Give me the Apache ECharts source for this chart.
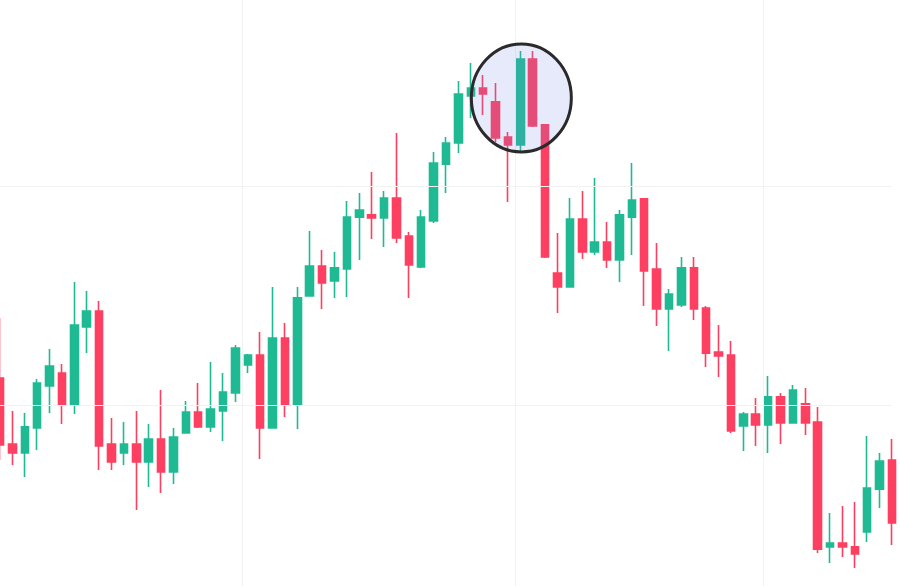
<!DOCTYPE html>
<html>
<head>
<meta charset="utf-8">
<style>
html,body{margin:0;padding:0;background:#ffffff;}
#chart{width:900px;height:586px;}
</style>
<script src="https://cdn.jsdelivr.net/npm/echarts@6/dist/echarts.min.js"></script>
</head>
<body>
<div id="chart"></div>
<script>
// Candle values: [open, close, low, high]
const opens  = [111.23,108.22,107.81,108.95,110.87,111.46,110.00,113.56,114.29,108.22,107.81,108.22,107.40,108.45,106.94,108.72,109.68,109.00,109.73,110.55,111.83,112.28,108.95,113.06,110.00,114.98,116.35,115.66,116.21,118.58,118.68,118.54,119.45,117.72,116.30,118.40,121.00,121.96,124.11,124.47,123.84,122.24,121.87,125.80,122.79,116.03,115.39,118.49,116.99,117.44,116.62,118.58,119.41,116.21,114.38,114.57,116.26,114.43,112.42,112.28,109.04,109.59,109.09,110.37,109.18,110.05,109.22,103.52,103.70,103.52,104.20,106.16,107.49];
const closes = [108.17,107.81,109.00,111.00,111.78,110.00,113.65,114.29,108.13,107.40,108.22,107.40,108.45,106.94,108.54,109.68,109.00,109.82,110.59,112.60,112.28,108.95,113.06,110.00,114.89,116.35,115.57,116.26,118.58,118.90,118.54,119.45,117.63,116.39,118.58,121.05,121.96,124.20,124.47,124.20,122.19,121.87,125.80,122.74,116.76,115.39,118.49,116.99,117.44,116.62,118.68,119.36,116.12,114.38,115.07,116.26,114.38,112.37,112.24,108.81,109.59,109.09,110.37,109.18,110.68,109.18,103.42,103.70,103.52,103.20,106.21,107.44,104.61];
const lows   = [107.49,107.26,106.71,107.95,109.63,109.13,109.59,112.37,107.03,107.03,107.26,105.21,106.26,105.98,106.39,108.72,108.95,108.77,108.36,110.14,111.46,107.53,108.95,109.45,108.90,114.98,114.38,114.89,114.93,116.62,117.58,117.21,117.40,114.89,116.26,118.31,119.68,121.51,123.10,123.24,122.01,119.27,121.51,122.69,116.71,114.20,115.39,116.67,116.85,116.26,115.62,116.85,114.52,113.61,112.47,114.47,113.88,111.74,111.28,108.72,107.90,108.13,107.81,108.22,109.18,108.63,103.24,102.79,103.06,102.56,103.74,105.30,103.61];
const highs  = [113.97,109.73,109.63,111.19,112.56,111.87,115.62,115.21,114.75,109.41,109.22,109.73,109.13,110.68,108.95,110.18,111.00,111.96,111.46,112.74,112.33,113.33,115.39,113.74,115.39,117.95,117.08,116.99,119.32,119.68,120.64,119.77,122.42,117.90,118.90,121.55,122.24,124.79,125.62,125.07,124.70,122.47,126.16,126.16,122.83,117.85,119.45,119.77,120.37,118.36,118.90,121.05,119.41,117.40,115.30,116.76,116.76,114.52,113.65,112.92,109.68,110.32,111.32,110.55,110.91,110.78,109.91,105.07,105.39,105.57,108.58,107.81,108.45];
const categories = opens.map((_, i) => String(i));
// Visible price range and faint guide lines
const priceMin = 101.735;
const priceMax = 128.493;
const horizontalGuides = [110, 120];
const verticalGuides = [19.53, 41.57, 61.58];   // in candle-index units
// Highlighted candle (circle annotation)
const highlightIndex = 42;
const highlightPrice = 124.02;

const UP = '#1fba93';
const DOWN = '#fd4061';
const GUIDE = '#f2f2f2';

const chart = echarts.init(document.getElementById('chart'), null, {renderer: 'canvas'});
const candleData = opens.map((o, i) => [o, closes[i], lows[i], highs[i]]);

chart.setOption({
  animation: false,
  backgroundColor: '#ffffff',
  grid: {left: 0, right: 8, top: 0, bottom: 0, containLabel: false},
  xAxis: [
    {type: 'category', data: categories, boundaryGap: false,
     axisLine: {show: false}, axisTick: {show: false}, axisLabel: {show: false}, splitLine: {show: false}},
    {type: 'value', min: 0, max: opens.length - 1, show: false}
  ],
  yAxis: {type: 'value', min: priceMin, max: priceMax, scale: true,
    axisLine: {show: false}, axisTick: {show: false}, axisLabel: {show: false},
    splitLine: {show: false}},
  series: [
    {type: 'line', xAxisIndex: 1, data: [], silent: true,
     markLine: {silent: true, symbol: 'none', label: {show: false},
       lineStyle: {color: GUIDE, width: 1, type: 'solid'},
       data: verticalGuides.map(v => ({xAxis: v})).concat(horizontalGuides.map(v => ({yAxis: v})))}},
    {type: 'candlestick', data: candleData, barWidth: 8,
     itemStyle: {color: UP, color0: DOWN, borderColor: UP, borderColor0: DOWN, borderWidth: 1.6}}
  ]
});

const c = chart.convertToPixel({xAxisIndex: 0, yAxisIndex: 0}, [highlightIndex, highlightPrice]);
chart.setOption({
  graphic: [{type: 'ellipse', z: 100,
    shape: {cx: c[0] + 1, cy: c[1], rx: 50, ry: 54},
    style: {fill: 'rgba(120,141,228,0.18)', stroke: '#2a2a2a', lineWidth: 3}}]
});
</script>
</body>
</html>
